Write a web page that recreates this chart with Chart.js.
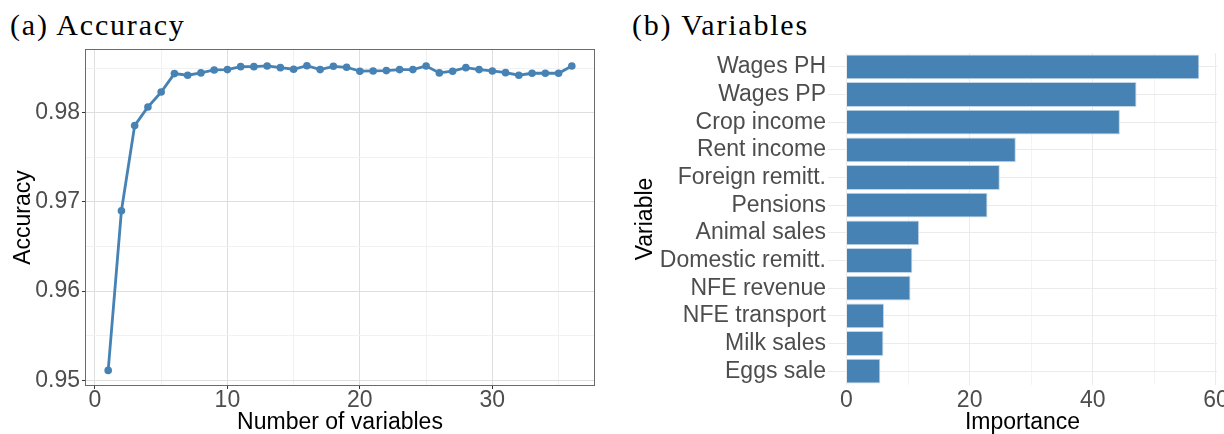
<!DOCTYPE html>
<html>
<head>
<meta charset="utf-8">
<script src="https://cdn.jsdelivr.net/npm/chart.js@4.4.1/dist/chart.umd.min.js"></script>
<style>
  body { margin: 0; width: 1224px; height: 434px; overflow: hidden; background: #fff; position: relative; }
  .panelTitle { position: absolute; top: 10px; font-family: "Liberation Serif", serif; font-size: 30px; line-height: 30px; letter-spacing: 1.8px; color: #000; white-space: nowrap; }
  #accCanvas { position: absolute; left: 0; top: 0; }
  #varCanvas { position: absolute; left: 620px; top: 0; }
</style>
</head>
<body>
<div class="panelTitle" style="left:10px">(a) Accuracy</div>
<div class="panelTitle" style="left:632px">(b) Variables</div>
<canvas id="accCanvas" width="610" height="434"></canvas>
<canvas id="varCanvas" width="620" height="434"></canvas>
<script>
// --- panel (a) data ---
const nVars = [1, 2, 3, 4, 5, 6, 7, 8, 9, 10, 11, 12, 13, 14, 15, 16, 17, 18,
               19, 20, 21, 22, 23, 24, 25, 26, 27, 28, 29, 30, 31, 32, 33, 34, 35, 36];
const accuracy = [0.9511, 0.9690, 0.97855, 0.98064, 0.98231, 0.98438, 0.98420, 0.98446, 0.98479,
                  0.98483, 0.98516, 0.98516, 0.98524, 0.98505, 0.98487, 0.98527, 0.98483, 0.98520,
                  0.98509, 0.98465, 0.98468, 0.98472, 0.98483, 0.98483, 0.98524, 0.98446, 0.98465,
                  0.98505, 0.98483, 0.98468, 0.98449, 0.98420, 0.98442, 0.98442, 0.98442, 0.98524];
const accXTicks = [0, 5, 10, 15, 20, 25, 30, 35];
const accXLabels = [0, 10, 20, 30];
const accYTicks = [0.95, 0.955, 0.96, 0.965, 0.97, 0.975, 0.98, 0.985];
const accYLabels = [0.95, 0.96, 0.97, 0.98];

// --- panel (b) data ---
const varNames = ['Wages PH', 'Wages PP', 'Crop income', 'Rent income', 'Foreign remitt.', 'Pensions',
                  'Animal sales', 'Domestic remitt.', 'NFE revenue', 'NFE transport', 'Milk sales', 'Eggs sale'];
const importance = [57.3, 47.1, 44.4, 27.5, 24.9, 22.9, 11.8, 10.7, 10.4, 6.1, 6.0, 5.5];
const impTicks = [0, 10, 20, 30, 40, 50, 60];
const impLabels = [0, 20, 40, 60];

const steelBlue = '#4682B4';
const tickGrey = '#4d4d4d';
const txtSize = 23;
Chart.defaults.font.family = '"Liberation Sans", Arial, sans-serif';

const near = (v, list) => list.some(t => Math.abs(t - v) < 1e-9);

// frame around the plotting area of panel (a)
const panelFrame = {
  id: 'panelFrame',
  afterDraw(chart) {
    const { ctx, chartArea: a } = chart;
    ctx.save();
    ctx.strokeStyle = '#6b6b6b';
    ctx.lineWidth = 1;
    ctx.strokeRect(a.left + 0.5, a.top + 0.5, a.right - a.left - 1, a.bottom - a.top - 1);
    ctx.restore();
  }
};

new Chart(document.getElementById('accCanvas'), {
  type: 'line',
  data: {
    datasets: [{
      data: nVars.map((n, i) => ({ x: n, y: accuracy[i] })),
      borderColor: steelBlue,
      backgroundColor: steelBlue,
      borderWidth: 2.8,
      pointRadius: 3.8,
      pointBorderWidth: 0,
      tension: 0
    }]
  },
  options: {
    responsive: false,
    animation: false,
    devicePixelRatio: 1,
    layout: { padding: { left: 12, top: 49, right: 15, bottom: 0 } },
    plugins: { legend: { display: false }, tooltip: { enabled: false } },
    scales: {
      x: {
        type: 'linear',
        min: -0.75,
        max: 37.75,
        afterBuildTicks: s => { s.ticks = accXTicks.map(v => ({ value: v })); },
        afterFit: s => { s.height = 48; },
        ticks: {
          autoSkip: false, maxRotation: 0, padding: 0,
          color: tickGrey, font: { size: txtSize, lineHeight: 1 },
          callback: v => near(v, accXLabels) ? String(v) : ''
        },
        grid: {
          color: c => near(c.tick.value, accXLabels) ? '#dedede' : '#f1f1f1',
          tickColor: c => near(c.tick.value, accXLabels) ? '#333333' : 'rgba(0,0,0,0)',
          tickLength: 3
        },
        border: { display: false },
        title: { display: true, text: 'Number of variables', color: '#000', padding: 0, font: { size: txtSize, lineHeight: 1 } }
      },
      y: {
        min: 0.94935,
        max: 0.98714,
        afterBuildTicks: s => { s.ticks = accYTicks.map(v => ({ value: v })); },
        afterFit: s => { s.width = 73; },
        ticks: {
          autoSkip: false, padding: 2,
          color: tickGrey, font: { size: txtSize, lineHeight: 1 },
          callback: v => near(v, accYLabels) ? v.toFixed(2) : ''
        },
        grid: {
          color: c => near(c.tick.value, accYLabels) ? '#dedede' : '#f1f1f1',
          tickColor: c => near(c.tick.value, accYLabels) ? '#333333' : 'rgba(0,0,0,0)',
          tickLength: 3
        },
        border: { display: false },
        title: { display: true, text: 'Accuracy', color: '#000', padding: 0, font: { size: txtSize, lineHeight: 1 } }
      }
    }
  },
  plugins: [panelFrame]
});

new Chart(document.getElementById('varCanvas'), {
  type: 'bar',
  data: {
    labels: varNames,
    datasets: [{
      data: importance,
      backgroundColor: steelBlue,
      borderColor: '#c3d5e6',
      borderWidth: 1,
      barPercentage: 0.9,
      categoryPercentage: 1.0
    }]
  },
  options: {
    indexAxis: 'y',
    responsive: false,
    animation: false,
    devicePixelRatio: 1,
    layout: { padding: { left: 14, top: 53, right: 23, bottom: 0 } },
    plugins: { legend: { display: false }, tooltip: { enabled: false } },
    scales: {
      x: {
        type: 'linear',
        min: -3.0,
        max: 60.17,
        afterBuildTicks: s => { s.ticks = impTicks.map(v => ({ value: v })); },
        afterFit: s => { s.height = 49; },
        ticks: {
          autoSkip: false, maxRotation: 0, padding: 4,
          color: tickGrey, font: { size: txtSize, lineHeight: 1 },
          callback: v => near(v, impLabels) ? String(v) : ''
        },
        grid: {
          color: c => near(c.tick.value, impLabels) ? '#ebebeb' : '#f4f4f4',
          drawTicks: false
        },
        border: { display: false },
        title: { display: true, text: 'Importance', color: '#000', padding: 0, font: { size: txtSize, lineHeight: 1 } }
      },
      y: {
        type: 'category',
        offset: true,
        afterFit: s => { s.width = 194; },
        ticks: {
          autoSkip: false, padding: 2,
          color: tickGrey, font: { size: txtSize, lineHeight: 1 }
        },
        grid: { offset: false, color: '#ebebeb', drawTicks: false },
        border: { display: false },
        title: { display: true, text: 'Variable', color: '#000', padding: 0, font: { size: txtSize, lineHeight: 1 } }
      }
    }
  }
});
</script>
</body>
</html>
